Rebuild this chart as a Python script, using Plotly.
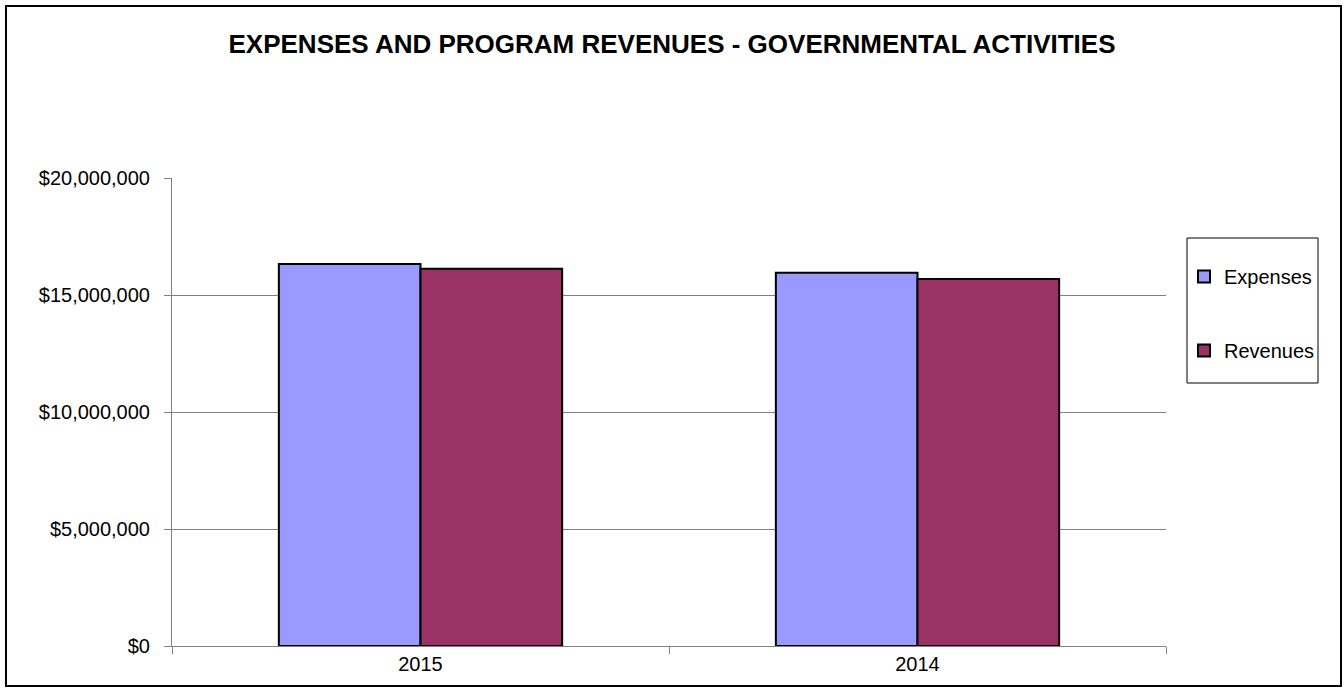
import plotly.graph_objects as go

categories = ["2015", "2014"]
expenses = [16320000, 15950000]
revenues = [16120000, 15680000]
y_tickvals = [0, 5000000, 10000000, 15000000, 20000000]
y_ticktext = ["$0", "$5,000,000", "$10,000,000", "$15,000,000", "$20,000,000"]

FONT = "Arial, Liberation Sans, sans-serif"

fig = go.Figure()
fig.add_trace(go.Bar(
    x=categories, y=expenses, name="Expenses", legendgroup="e",
    marker=dict(color="#9999FF", line=dict(color="black", width=2)),
))
fig.add_trace(go.Bar(
    x=categories, y=revenues, name="Revenues", legendgroup="r",
    marker=dict(color="#993366", line=dict(color="black", width=2)),
))

W, H = 1344, 688
L, R, T, B = 172, 178, 178, 42
pw = W - L - R
ph = H - T - B

def px_x(x):
    return (x - L) / pw

def px_y(y):
    return (H - B - y) / ph

fig.update_layout(
    width=W, height=H,
    margin=dict(l=L, r=R, t=T, b=B),
    paper_bgcolor="white", plot_bgcolor="white",
    font=dict(family=FONT, size=20, color="black"),
    title=dict(
        text="<b>EXPENSES AND PROGRAM REVENUES - GOVERNMENTAL ACTIVITIES</b>",
        x=0.5, xanchor="center", xref="container",
        y=1 - 44 / H, yanchor="middle", yref="container",
        font=dict(family=FONT, size=26, color="black"),
    ),
    barmode="group", bargap=0.43, bargroupgap=0,
    showlegend=True,
    legend=dict(
        x=px_x(1184), y=px_y(257), xanchor="left", yanchor="top",
        borderwidth=0, bgcolor="rgba(0,0,0,0)",
        font=dict(family=FONT, size=20, color="black"),
        tracegroupgap=45, traceorder="grouped",
    ),
    xaxis=dict(
        showline=True, linecolor="#808080", linewidth=1,
        ticks="outside", tickson="boundaries", ticklen=7, tickcolor="#808080",
        showgrid=False, tickfont=dict(family=FONT, size=20, color="black"),
    ),
    yaxis=dict(
        range=[0, 20000000], tickvals=y_tickvals, ticktext=y_ticktext,
        showline=True, linecolor="#808080", linewidth=1,
        ticks="outside", ticklen=7, tickcolor="#808080",
        showgrid=True, gridcolor="#808080", gridwidth=1,
        zeroline=False, ticklabelstandoff=10,
        tickfont=dict(family=FONT, size=20, color="black"),
    ),
)

# outer chart frame
fig.add_shape(
    type="rect", xref="paper", yref="paper",
    x0=px_x(6), x1=px_x(1341), y0=px_y(686), y1=px_y(6),
    line=dict(color="black", width=2), fillcolor="rgba(0,0,0,0)", layer="below",
)
# legend frame
fig.add_shape(
    type="rect", xref="paper", yref="paper",
    x0=px_x(1187), x1=px_x(1318), y0=px_y(383), y1=px_y(238),
    line=dict(color="black", width=1), fillcolor="rgba(0,0,0,0)", layer="below",
)

fig.write_html(
    "out.html",
    config={"displayModeBar": False},
    post_script="document.body.style.margin='0';document.body.style.overflow='hidden';",
)
